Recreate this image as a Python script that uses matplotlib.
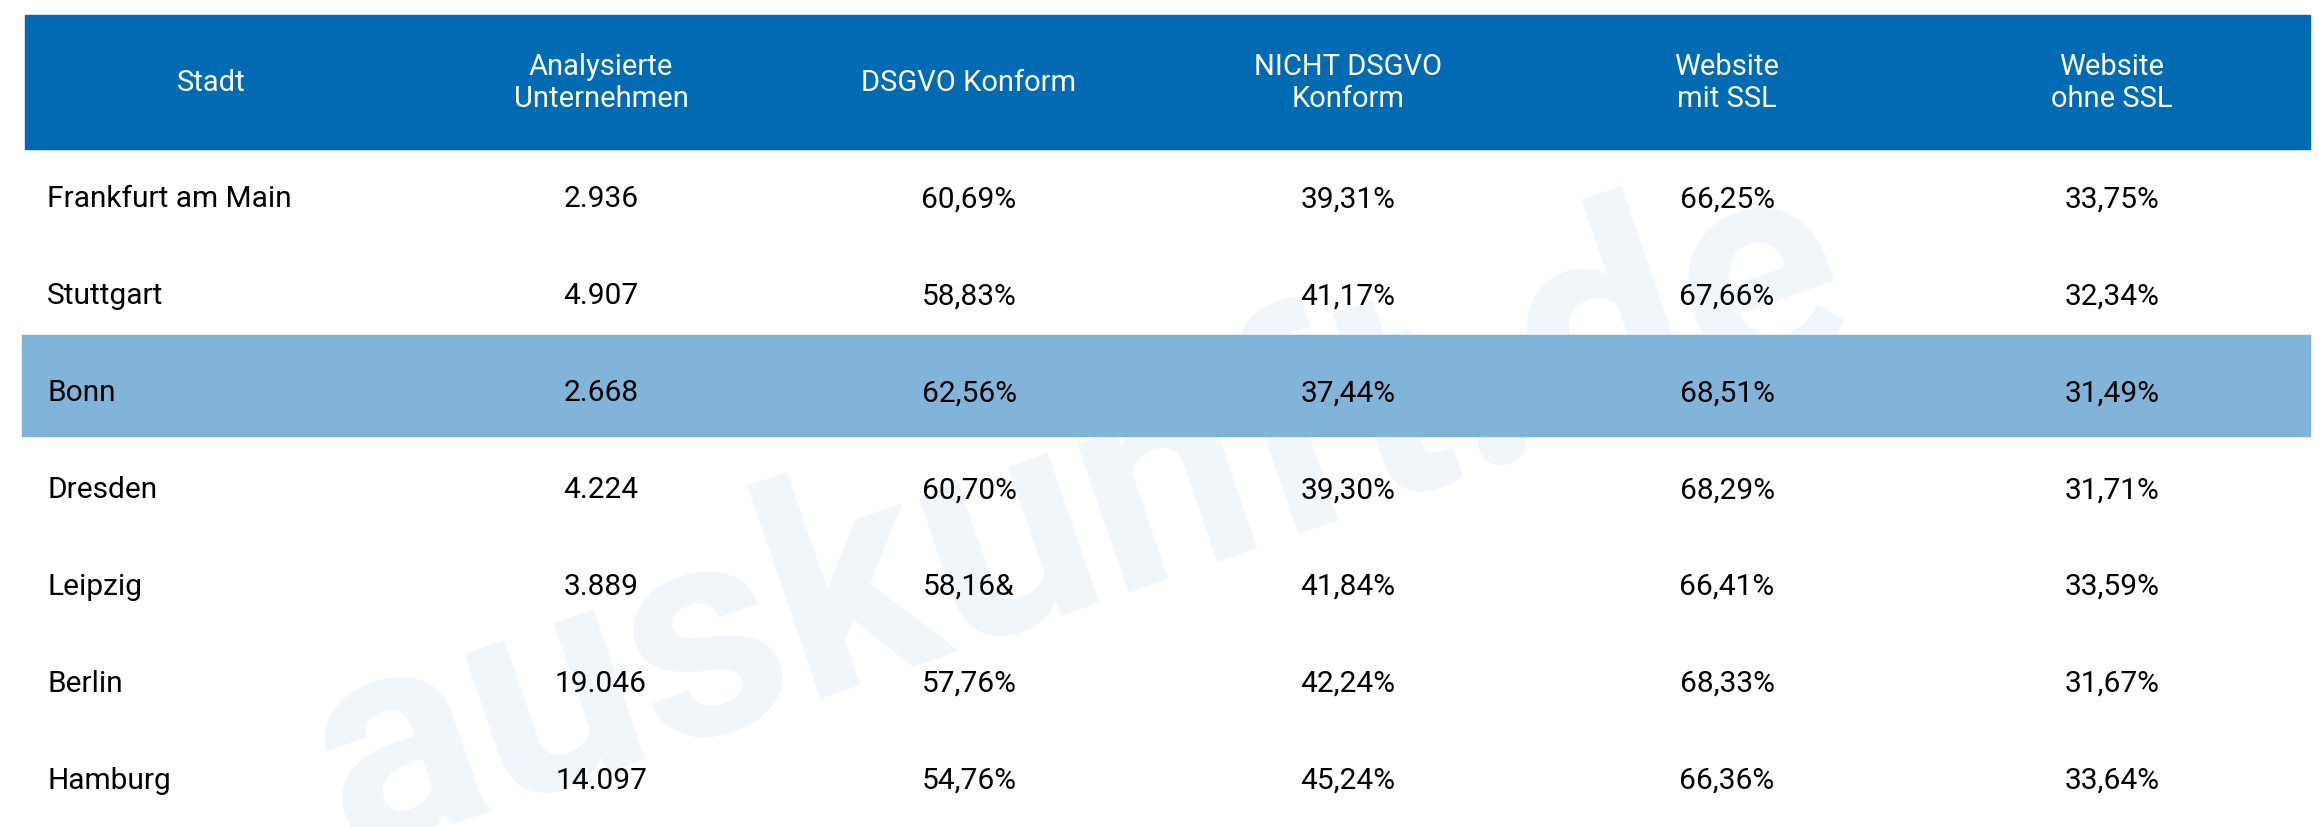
import matplotlib
matplotlib.use("Agg")
import matplotlib.pyplot as plt
from matplotlib.patches import Rectangle

headers = ["Stadt", "Analysierte\nUnternehmen", "DSGVO Konform", "NICHT DSGVO\nKonform", "Website\nmit SSL", "Website\nohne SSL"]
cities = ["Frankfurt am Main", "Stuttgart", "Bonn", "Dresden", "Leipzig", "Berlin", "Hamburg"]
analysed = ["2.936", "4.907", "2.668", "4.224", "3.889", "19.046", "14.097"]
konform = ["60,69%", "58,83%", "62,56%", "60,70%", "58,16&", "57,76%", "54,76%"]
nicht = ["39,31%", "41,17%", "37,44%", "39,30%", "41,84%", "42,24%", "45,24%"]
ssl = ["66,25%", "67,66%", "68,51%", "68,29%", "66,41%", "68,33%", "66,36%"]
ohne = ["33,75%", "32,34%", "31,49%", "31,71%", "33,59%", "31,67%", "33,64%"]
highlight = "Bonn"

W, H = 2321, 827
fig = plt.figure(figsize=(W/100, H/100), dpi=100)
ax = fig.add_axes([0, 0, 1, 1])
ax.set_xlim(0, W); ax.set_ylim(H, 0); ax.axis("off")
font = "Roboto"

ax.text(1080, 520, "auskunft.de", fontsize=215, fontweight="bold", color="#F1F6FB",
        rotation=19, ha="center", va="center", family=font, zorder=0)

ax.add_patch(Rectangle((25, 15), 2285, 134, color="#006AB3", zorder=1))
centers = [211, 601, 969, 1348, 1727, 2112]
for c, h in zip(centers, headers):
    ax.text(c, 83, h, ha="center", va="center", color="white", fontsize=21, family=font,
            linespacing=1.15, zorder=3)

top, rh = 149, 96.9
cols = [analysed, konform, nicht, ssl, ohne]
for i, city in enumerate(cities):
    y0 = top + i*rh
    if city == highlight:
        ax.add_patch(Rectangle((22, y0-8), 2288, rh+4, color="#80B3D9", zorder=1, alpha=0.98))
    yc = y0 + rh/2 + 2
    ax.text(47, yc, city, ha="left", va="center", fontsize=21.5, family=font, color="black", zorder=3)
    for c, col in zip(centers[1:], cols):
        ax.text(c, yc, col[i], ha="center", va="center", fontsize=21.5, family=font, color="black", zorder=3)

fig.savefig("out.png", dpi=100)
